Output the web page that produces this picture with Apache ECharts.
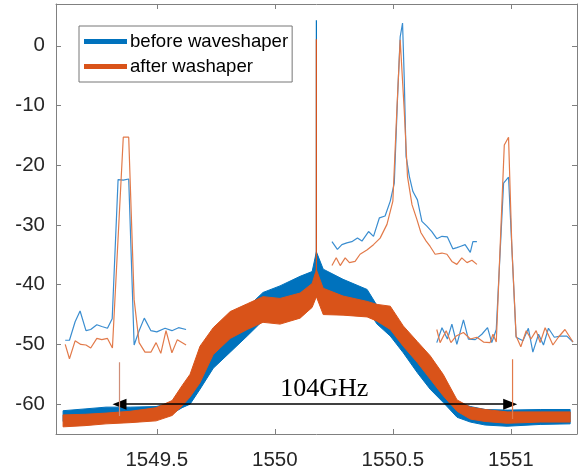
<!DOCTYPE html>
<html>
<head>
<meta charset="utf-8">
<script src="https://cdn.jsdelivr.net/npm/echarts@6/dist/echarts.min.js"></script>
<style>
  html, body { margin: 0; padding: 0; background: #fff; }
  #chart { width: 582px; height: 471px; }
</style>
</head>
<body>
<div id="chart"></div>
<script>
// axis ranges and ticks
const xLimits = [1549.073, 1551.28];
const yLimits = [-65, 7];
const xTicks = [1549.5, 1550, 1550.5, 1551];
const yTicks = [-60, -50, -40, -30, -20, -10, 0];

// broadband spectrum, read as upper / lower edge of the noisy trace (dBm)
const bandX = [1549.103, 1549.196, 1549.285, 1549.387, 1549.497, 1549.565, 1549.607, 1549.641,
  1549.683, 1549.739, 1549.811, 1549.883, 1549.950, 1550.022, 1550.107, 1550.158, 1550.176,
  1550.205, 1550.289, 1550.391, 1550.433, 1550.489, 1550.544, 1550.603, 1550.658, 1550.713,
  1550.772, 1550.828, 1550.891, 1550.984, 1551.124, 1551.251];
const beforeHi = [-61.1, -60.8, -60.5, -60.5, -60.4, -59.8, -58.6, -56.8, -53.0, -49.0, -46.0,
  -43.8, -41.3, -40.2, -38.6, -37.8, -34.5, -37.4, -39.1, -40.8, -43.5, -46.1, -48.4, -50.8,
  -53.0, -56.4, -59.7, -60.4, -60.9, -61.0, -60.9, -60.9];
const beforeLo = [-62.9, -62.6, -62.4, -62.3, -62.2, -61.6, -60.6, -60.0, -57.5, -54.0, -51.3,
  -48.6, -46.0, -44.9, -43.0, -42.3, -41.0, -40.8, -42.5, -44.1, -46.6, -48.6, -51.4, -54.7,
  -57.5, -59.7, -62.2, -63.0, -63.5, -63.7, -63.4, -63.3];
const afterHi = [-61.8, -61.7, -61.5, -61.2, -60.6, -59.4, -56.9, -55.0, -50.3, -47.2, -44.5,
  -43.2, -42.0, -42.3, -41.4, -39.8, -37.5, -40.6, -41.9, -42.8, -43.3, -43.6, -46.9, -49.5,
  -51.9, -55.0, -59.3, -60.5, -60.9, -61.3, -61.3, -61.3];
const afterLo = [-63.8, -63.6, -63.3, -63.1, -62.8, -61.9, -60.3, -58.8, -56.4, -51.7, -49.0,
  -47.5, -46.3, -46.6, -45.6, -43.8, -42.0, -45.0, -45.1, -45.4, -46.1, -47.5, -50.3, -53.0,
  -55.8, -58.6, -61.2, -62.5, -62.9, -63.2, -63.0, -63.0];

// zoomed traces around the three lines [nm, dBm]
const leftBefore = [[1549.112, -49.3], [1549.130, -49.3], [1549.154, -46.2], [1549.175, -44.4],
  [1549.200, -47.7], [1549.220, -47.5], [1549.246, -46.7], [1549.267, -47.0], [1549.291, -47.3],
  [1549.311, -45.7], [1549.336, -22.4], [1549.358, -22.5], [1549.381, -22.3], [1549.404, -50.1],
  [1549.425, -47.7], [1549.447, -45.6], [1549.475, -47.7], [1549.500, -47.9], [1549.535, -47.3],
  [1549.564, -47.7], [1549.592, -47.2], [1549.624, -47.5]];
const leftAfter = [[1549.112, -50.0], [1549.130, -52.4], [1549.154, -49.4], [1549.178, -50.0],
  [1549.200, -50.1], [1549.220, -50.6], [1549.246, -49.0], [1549.267, -49.2], [1549.291, -49.0],
  [1549.312, -50.6], [1549.358, -15.3], [1549.381, -15.3], [1549.404, -42.5], [1549.425, -49.7],
  [1549.450, -51.3], [1549.475, -51.3], [1549.497, -49.7], [1549.517, -51.5], [1549.539, -47.7],
  [1549.564, -51.4], [1549.587, -49.2], [1549.624, -50.1]];
const midBefore = [[1550.242, -32.8], [1550.265, -34.1], [1550.284, -33.3], [1550.305, -33.0],
  [1550.326, -32.8], [1550.350, -32.2], [1550.369, -32.7], [1550.397, -31.1], [1550.418, -31.9],
  [1550.443, -28.8], [1550.467, -28.5], [1550.489, -26.0], [1550.506, -23.0], [1550.520, -8.5],
  [1550.531, 1.5], [1550.541, 3.8], [1550.548, -5.2], [1550.556, -18.5], [1550.570, -21.9],
  [1550.585, -24.4], [1550.604, -25.8], [1550.623, -29.4], [1550.644, -30.2], [1550.665, -31.1],
  [1550.686, -32.3], [1550.708, -31.9], [1550.731, -32.0], [1550.754, -34.0], [1550.771, -33.8],
  [1550.785, -33.6], [1550.806, -33.3], [1550.828, -34.6], [1550.839, -32.8], [1550.856, -32.8]];
const midAfter = [[1550.242, -36.8], [1550.260, -35.5], [1550.277, -36.8], [1550.298, -35.5],
  [1550.316, -36.3], [1550.340, -36.1], [1550.361, -34.9], [1550.390, -34.2], [1550.418, -33.3],
  [1550.446, -32.2], [1550.475, -29.9], [1550.500, -26.0], [1550.517, -10.7], [1550.531, 1.0],
  [1550.539, 0.7], [1550.548, -10.7], [1550.562, -21.9], [1550.581, -26.6], [1550.602, -29.1],
  [1550.619, -31.3], [1550.641, -32.7], [1550.658, -33.6], [1550.679, -34.9], [1550.708, -34.7],
  [1550.729, -34.9], [1550.750, -36.1], [1550.771, -36.6], [1550.792, -35.5], [1550.814, -36.3],
  [1550.835, -35.9], [1550.856, -36.6]];
const rightBefore = [[1550.686, -49.7], [1550.708, -47.2], [1550.731, -49.1], [1550.750, -46.6],
  [1550.771, -50.0], [1550.799, -45.9], [1550.820, -49.1], [1550.849, -49.2], [1550.877, -48.3],
  [1550.901, -47.2], [1550.919, -49.7], [1550.938, -47.5], [1550.969, -23.0], [1550.990, -22.0],
  [1551.022, -48.8], [1551.051, -49.4], [1551.074, -47.3], [1551.093, -51.3], [1551.117, -48.3],
  [1551.138, -50.1], [1551.159, -47.3], [1551.184, -48.8], [1551.209, -48.6], [1551.237, -48.6],
  [1551.263, -49.6]];
const rightAfter = [[1550.686, -47.5], [1550.700, -49.7], [1550.726, -47.7], [1550.746, -49.7],
  [1550.768, -48.6], [1550.799, -48.0], [1550.828, -49.1], [1550.856, -48.8], [1550.884, -49.6],
  [1550.912, -49.7], [1550.924, -48.3], [1550.938, -49.6], [1550.972, -16.6], [1550.990, -15.3],
  [1551.004, -33.6], [1551.022, -48.6], [1551.042, -50.4], [1551.065, -47.7], [1551.085, -49.1],
  [1551.107, -47.7], [1551.124, -49.7], [1551.145, -47.2], [1551.178, -50.1], [1551.201, -48.8],
  [1551.229, -47.5], [1551.263, -49.6]];

// narrow lines: carrier and the two marker lines
const carrierX = 1550.176;
const carrierBefore = [-38.0, 4.3];
const carrierAfter = [-40.0, 1.1];
const markerX = [1549.342, 1551.007];
const markerRange = [[-62.0, -53.0], [-62.5, -52.5]];

// 104 GHz span arrow
const spanX = [1549.342, 1550.997];
const spanLevel = -60;
const spanText = '104GHz';

const BLUE = '#0072BD';
const ORANGE = '#D95319';
const BLUE_THIN = '#3a8dd0';
const ORANGE_THIN = '#e27a4a';
const AXIS = '#808080';
const TEXT = '#262626';

function pairs(xs, ys) {
  return xs.map((x, i) => [x, ys[i]]);
}

// noisy trace drawn as a filled band between its lower and upper edge
function bandSeries(name, color, hi, lo, z) {
  return {
    name: name,
    type: 'custom',
    color: color,
    data: bandX.map((x, i) => [x, lo[i], hi[i]]),
    encode: { x: 0, y: [1, 2] },
    renderItem: function (params, api) {
      if (params.dataIndex !== 0) return;
      const top = bandX.map((x, i) => api.coord([x, hi[i]]));
      const bottom = bandX.map((x, i) => api.coord([x, lo[i]])).reverse();
      return {
        type: 'polygon',
        shape: { points: top.concat(bottom) },
        style: { fill: color, stroke: color, lineWidth: 1 },
      };
    },
    z: z,
    silent: true,
  };
}

function thin(name, data, color, z) {
  return {
    name: name,
    type: 'line',
    data: data,
    symbol: 'none',
    lineStyle: { color: color, width: 1.2 },
    itemStyle: { color: color },
    z: z,
    silent: true,
  };
}

const chart = echarts.init(document.getElementById('chart'));

const axisCommon = {
  type: 'value',
  axisLine: { show: true, onZero: false, lineStyle: { color: AXIS, width: 1 } },
  splitLine: { show: false },
};

const option = {
  animation: false,
  backgroundColor: '#fff',
  grid: { left: 56, right: 5, top: 4, bottom: 37 },
  legend: {
    data: ['before waveshaper', 'after washaper'],
    orient: 'vertical',
    left: 79,
    top: 26,
    icon: 'rect',
    itemWidth: 43,
    itemHeight: 5,
    itemGap: 6,
    padding: [6, 4, 6, 5],
    backgroundColor: '#fff',
    borderColor: '#777',
    borderWidth: 1,
    borderRadius: 0,
    itemStyle: { borderWidth: 0 },
    textStyle: { fontFamily: 'Liberation Sans', fontSize: 18.6, color: '#000', padding: [0, 0, 0, -2] },
  },
  xAxis: [
    Object.assign({}, axisCommon, {
      min: xLimits[0], max: xLimits[1], position: 'bottom',
      axisTick: { show: true, inside: true, length: 5, lineStyle: { color: AXIS }, customValues: xTicks },
      axisLabel: {
        customValues: xTicks, margin: 16, color: TEXT,
        fontFamily: 'Liberation Sans', fontSize: 20.5,
        formatter: v => String(v),
      },
    }),
    Object.assign({}, axisCommon, {
      min: xLimits[0], max: xLimits[1], position: 'top',
      axisTick: { show: true, inside: true, length: 5, lineStyle: { color: AXIS }, customValues: xTicks },
      axisLabel: { show: false },
    }),
  ],
  yAxis: [
    Object.assign({}, axisCommon, {
      min: yLimits[0], max: yLimits[1], position: 'left',
      axisTick: { show: true, inside: true, length: 5, lineStyle: { color: AXIS }, customValues: yTicks },
      axisLabel: {
        customValues: yTicks, margin: 11, color: TEXT,
        fontFamily: 'Liberation Sans', fontSize: 20.5,
        formatter: v => String(v),
      },
    }),
    Object.assign({}, axisCommon, {
      min: yLimits[0], max: yLimits[1], position: 'right',
      axisTick: { show: true, inside: true, length: 5, lineStyle: { color: AXIS }, customValues: yTicks },
      axisLabel: { show: false },
    }),
  ],
  series: [
    bandSeries('before waveshaper', BLUE, beforeHi, beforeLo, 2),
    bandSeries('after washaper', ORANGE, afterHi, afterLo, 3),
    thin('carrier before', pairs([carrierX, carrierX], carrierBefore), BLUE, 4),
    thin('carrier after', pairs([carrierX, carrierX], carrierAfter), ORANGE, 5),
    thin('marker 1', pairs([markerX[0], markerX[0]], markerRange[0]), '#cf8e78', 5),
    thin('marker 2', pairs([markerX[1], markerX[1]], markerRange[1]), ORANGE_THIN, 5),
    thin('left before', leftBefore, BLUE_THIN, 6),
    thin('left after', leftAfter, ORANGE_THIN, 7),
    thin('mid before', midBefore, BLUE_THIN, 6),
    thin('mid after', midAfter, ORANGE_THIN, 7),
    thin('right before', rightBefore, BLUE_THIN, 6),
    thin('right after', rightAfter, ORANGE_THIN, 7),
    {
      name: 'span',
      type: 'line',
      data: [],
      z: 8,
      markLine: {
        silent: true,
        symbol: ['triangle', 'triangle'],
        symbolSize: [11, 14],
        lineStyle: { color: '#000', width: 1.5, type: 'solid' },
        label: {
          show: true,
          position: 'middle',
          formatter: spanText,
          fontFamily: 'Liberation Serif',
          fontSize: 26,
          color: '#000',
          distance: 2,
          padding: [0, 0, 0, 19],
        },
        data: [[
          { coord: [spanX[0], spanLevel] },
          { coord: [spanX[1], spanLevel] },
        ]],
      },
    },
  ],
};

chart.setOption(option);
</script>
</body>
</html>
